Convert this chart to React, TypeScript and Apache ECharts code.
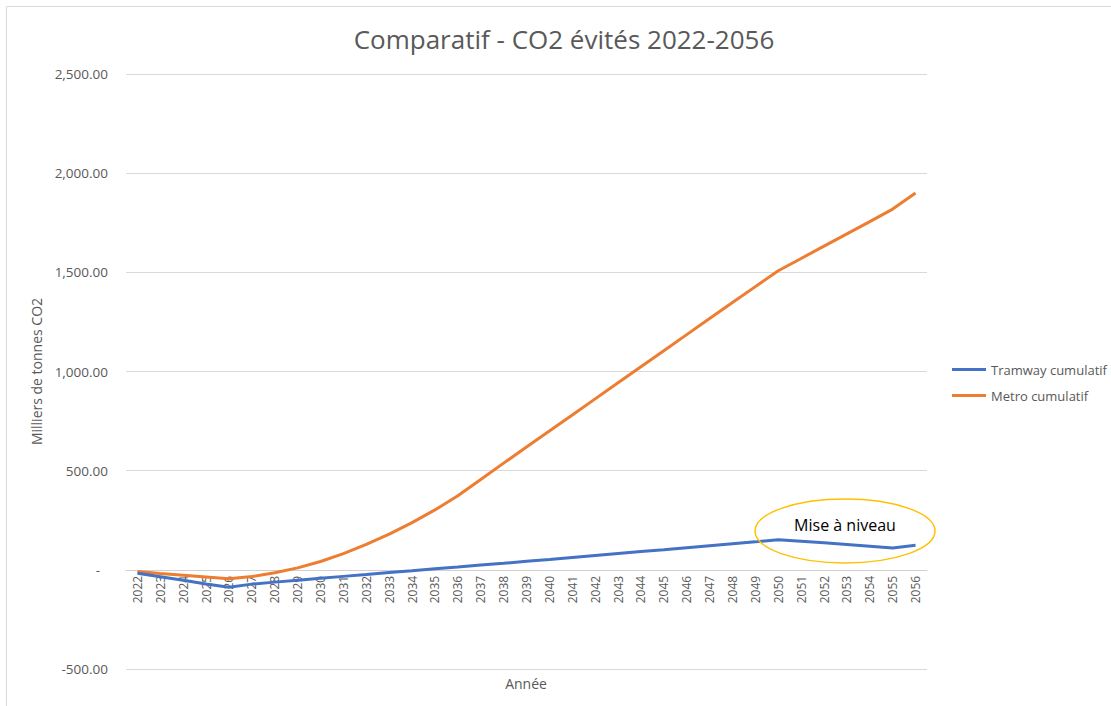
import React, { useEffect, useRef } from "react";
import * as echarts from "echarts";

const years = [
  "2022", "2023", "2024", "2025", "2026", "2027", "2028", "2029", "2030", "2031",
  "2032", "2033", "2034", "2035", "2036", "2037", "2038", "2039", "2040", "2041",
  "2042", "2043", "2044", "2045", "2046", "2047", "2048", "2049", "2050", "2051",
  "2052", "2053", "2054", "2055", "2056",
];

const tramway = [
  -17, -35, -53, -71, -88, -72, -62, -52, -43, -33,
  -24, -14, -5, 5, 14, 24, 33, 43, 52, 62,
  72, 82, 92, 101, 111, 121, 131, 141, 152, 144,
  136, 128, 119, 110, 124,
];

const metro = [
  -8, -18, -27, -36, -45, -34, -15, 10, 42, 82,
  128, 180, 238, 302, 374, 455, 538, 619, 700, 781,
  862, 943, 1024, 1105, 1186, 1267, 1348, 1428, 1508, 1570,
  1632, 1694, 1756, 1819, 1900,
];

const seriesNames = ["Tramway cumulatif", "Metro cumulatif"];
const titleText = "Comparatif - CO2 évités 2022-2056";
const xName = "Année";
const yName = "Milliers de tonnes CO2";
const noteText = "Mise à niveau";

const FONT = "'Open Sans', 'Noto Sans', sans-serif";
const GREY = "#595959";

function fmt(v: number): string {
  if (v === 0) return "{z|-}";
  const s = Math.abs(v).toLocaleString("en-US", { minimumFractionDigits: 2, maximumFractionDigits: 2 });
  return (v < 0 ? "-" : "") + s;
}

export default function App() {
  const ref = useRef<HTMLDivElement>(null);
  useEffect(() => {
    document.body.style.margin = "0";
    const chart = echarts.init(ref.current!, null, { renderer: "svg" });
    chart.setOption({
      animation: false,
      backgroundColor: "#ffffff",
      textStyle: { fontFamily: FONT },
      title: {
        text: titleText,
        left: 559,
        top: 21,
        textAlign: "center",
        textStyle: { fontFamily: FONT, fontSize: 26, fontWeight: "normal", color: GREY },
      },
      legend: {
        orient: "vertical",
        left: 947,
        top: 358,
        itemGap: 13,
        itemWidth: 34,
        itemHeight: 3,
        icon: "rect",
        data: seriesNames,
        textStyle: { fontFamily: FONT, fontSize: 13, color: GREY },
      },
      grid: { left: 126, right: 184, top: 74, bottom: 37, containLabel: false },
      xAxis: {
        type: "category",
        data: years,
        boundaryGap: true,
        offset: -99.2,
        axisLine: { onZero: false, lineStyle: { color: "#d0d0d0", width: 1 } },
        axisTick: { show: false },
        axisLabel: { rotate: 90, margin: 6, fontSize: 12, color: GREY, fontFamily: FONT, interval: 0 },
        splitLine: { show: false },
      },
      yAxis: {
        type: "value",
        min: -500,
        max: 2500,
        interval: 500,
        name: yName,
        nameLocation: "middle",
        nameGap: 71,
        nameTextStyle: { fontFamily: FONT, fontSize: 14, color: GREY },
        axisLine: { show: false },
        axisTick: { show: false },
        axisLabel: {
          margin: 18,
          fontSize: 13.5,
          color: GREY,
          fontFamily: FONT,
          formatter: fmt,
          rich: { z: { fontSize: 13.5, color: GREY, fontFamily: FONT, padding: [0, 8, 0, 0] } },
        },
        splitLine: { lineStyle: { color: "#d9d9d9", width: 1 } },
      },
      series: [
        {
          name: seriesNames[0],
          type: "line",
          data: tramway,
          showSymbol: false,
          symbol: "none",
          lineStyle: { color: "#4472C4", width: 3 },
          itemStyle: { color: "#4472C4" },
          z: 3,
        },
        {
          name: seriesNames[1],
          type: "line",
          data: metro,
          showSymbol: false,
          symbol: "none",
          lineStyle: { color: "#ED7D31", width: 3 },
          itemStyle: { color: "#ED7D31" },
          z: 2,
        },
      ],
      graphic: [
        {
          type: "rect",
          shape: { x: 6.5, y: 6.5, width: 1300, height: 900 },
          style: { fill: "none", stroke: "#d9d9d9", lineWidth: 1 },
          silent: true,
          z: -1,
        },
        {
          type: "text",
          x: 526,
          y: 683,
          style: { text: xName, fontFamily: FONT, fontSize: 14, fill: GREY, align: "center", verticalAlign: "middle" },
        },
        {
          type: "ellipse",
          shape: { cx: 845, cy: 531, rx: 90, ry: 32 },
          style: { fill: "none", stroke: "#FFC000", lineWidth: 1.5 },
          z: 10,
        },
        {
          type: "text",
          x: 845,
          y: 525,
          style: { text: noteText, fontFamily: FONT, fontSize: 16, fill: "#000000", align: "center", verticalAlign: "middle" },
          z: 11,
        },
      ],
    });
    return () => chart.dispose();
  }, []);
  return <div ref={ref} style={{ width: 1111, height: 706, position: "absolute", left: 0, top: 0 }} />;
}
